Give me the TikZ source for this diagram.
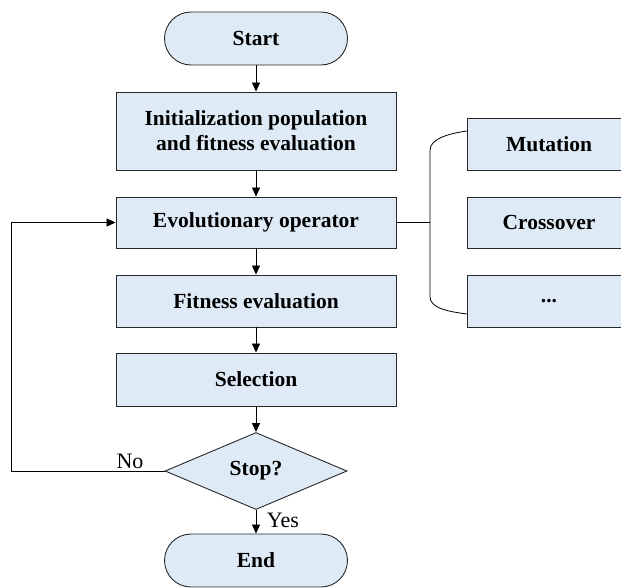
\documentclass[tikz,border=0pt]{standalone}
\usepackage{fontspec}
\setmainfont{Liberation Serif}
\usetikzlibrary{shapes.geometric,arrows.meta}
\definecolor{boxfill}{RGB}{222,234,246}
\definecolor{boxline}{RGB}{40,40,40}
\tikzset{
  box/.style={draw=boxline, line width=0.9pt, fill=boxfill, minimum width=280pt, inner sep=0pt, align=center, font=\fontsize{21.5}{25}\selectfont\bfseries},
  sidebox/.style={box, minimum width=164pt},
  term/.style={box, minimum width=183pt, minimum height=53pt, rounded corners=26.5pt},
  decide/.style={draw=boxline, line width=0.9pt, fill=boxfill, diamond, aspect=2.36, minimum width=182pt, minimum height=77pt, inner sep=0pt, font=\fontsize{21.5}{25}\selectfont\bfseries},
  flow/.style={draw=black, line width=0.8pt, -{Triangle[length=9pt,width=8pt]}},
  link/.style={draw=black, line width=0.8pt},
  lbl/.style={font=\fontsize{22}{25}\selectfont, inner sep=0pt}
}
\begin{document}
\begin{tikzpicture}[x=1pt,y=-1pt]
\useasboundingbox (0,0) rectangle (621,587);
\node[term] (start) at (256,38.5) {Start};
\node[box, minimum height=78pt] (init) at (256,131) {Initialization population\\and fitness evaluation};
\node[box, minimum height=51pt] (evo) at (256,222.5) {Evolutionary operator};
\node[box, minimum height=52pt] (fit) at (256,301) {Fitness evaluation};
\node[box, minimum height=53pt] (sel) at (256,379.5) {Selection};
\node[decide] (stop) at (256,471) {Stop?};
\node[term] (end) at (256,560.5) {End};
\node[sidebox, minimum height=52pt] (mut) at (549,144) {Mutation};
\node[sidebox, minimum height=51pt] (cross) at (549,222.5) {Crossover};
\node[sidebox, minimum height=52pt] (dots) at (549,301) {...};

\draw[flow] (start) -- (init);
\draw[flow] (init) -- (evo);
\draw[flow] (evo) -- (fit);
\draw[flow] (fit) -- (sel);
\draw[flow] (sel) -- (stop);
\draw[flow] (stop) -- (end);
\coordinate (loop) at (11,471);
\draw[flow] (stop.west) -- (loop) |- (evo.west);
\node[lbl] (no) at (130,461) {No};
\node[lbl] (yes) at (283,520) {Yes};

\coordinate (bmid) at (430,222.5);
\coordinate (btop) at (430,150);
\coordinate (bbot) at (430,297);
\coordinate (mutend) at (467,131);
\coordinate (dotsend) at (467,314);
\draw[link] (evo.east) -- (bmid);
\draw[link] (mutend) .. controls (452,133) and (430,138) .. (btop) -- (bbot) .. controls (430,309) and (452,312) .. (dotsend);
\end{tikzpicture}
\end{document}
